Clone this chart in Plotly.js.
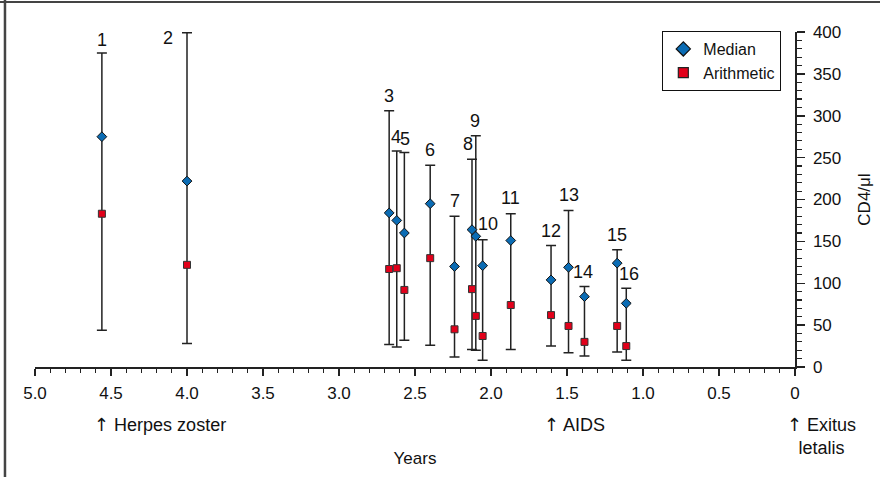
<!DOCTYPE html>
<html>
<head>
<meta charset="utf-8">
<script src="https://cdn.plot.ly/plotly-3.0.1.min.js"></script>
<style>html,body{margin:0;padding:0;background:#fff;}#chart{width:880px;height:477px;}</style>
</head>
<body>
<div id="chart"></div>
<script>
// Years before death for each patient group
var years = [4.56, 4.0, 2.67, 2.62, 2.57, 2.40, 2.24, 2.125, 2.10, 2.055, 1.87, 1.605, 1.49, 1.385, 1.17, 1.11];
var labels = ['1','2','3','4','5','6','7','8','9','10','11','12','13','14','15','16'];
var median = [275, 222, 184, 175, 160, 195, 120, 164, 156, 121, 151, 104, 119, 84, 124, 76];
var arithmetic = [183, 122, 117, 118, 92, 130, 45, 93, 61, 37, 74, 62, 49, 30, 49, 25];
var rangeTop = [375, 399, 306, 258, 256, 241, 180, 248, 276, 152, 183, 145, 187, 96, 140, 94];
var rangeBottom = [44, 28, 27, 24, 32, 26, 12, 21, 20, 8, 21, 25, 17, 13, 18, 8];
var xTickVals = [5.0, 4.5, 4.0, 3.5, 3.0, 2.5, 2.0, 1.5, 1.0, 0.5, 0];
var xTickText = ['5.0','4.5','4.0','3.5','3.0','2.5','2.0','1.5','1.0','0.5','0'];
var eventX = [4.6, 1.64, 0];
var eventText = ['Herpes zoster', 'AIDS', 'Exitus<br>letalis'];

// label styling offsets (pixels)
var labelDx = [0, -19, 0, -1, 1, 0, 0, -4, -1, 5, 0, 0, 0, -1, 0, 3];
var labelDy = [13, -5, 15, 14, 14, 15, 15, 15, 15, 16, 16, 15, 15, 15, 15, 14];

var FONT = 'Liberation Sans, Arial, Helvetica, sans-serif';
var ARROW = '<span style="font-family:DejaVu Sans">\u2191</span>';
var plus = rangeTop.map(function(t, i){ return t - median[i]; });
var minus = rangeBottom.map(function(b, i){ return median[i] - b; });

var traces = [
  {
    type: 'scatter', mode: 'markers', name: 'Median', legendgroup: 'm', showlegend: false,
    x: years, y: median,
    marker: {symbol: 'diamond', size: 7.5, color: '#0b6cb4', line: {color: '#111', width: 1}},
    error_y: {type: 'data', symmetric: false, array: plus, arrayminus: minus, color: '#222', thickness: 1.5, width: 5},
    cliponaxis: false
  },
  {
    type: 'scatter', mode: 'markers', name: 'Arithmetic', legendgroup: 'a', showlegend: false,
    x: years, y: arithmetic,
    marker: {symbol: 'square', size: 7, color: '#e2001a', line: {color: '#333', width: 1}},
    cliponaxis: false
  },
  // legend entries (larger symbols, as in the original key)
  {type: 'scatter', mode: 'markers', name: 'Median', legendgroup: 'm', x: [null], y: [null],
    marker: {symbol: 'diamond', size: 11, color: '#0b6cb4', line: {color: '#111', width: 1.2}}},
  {type: 'scatter', mode: 'markers', name: 'Arithmetic', legendgroup: 'a', x: [null], y: [null],
    marker: {symbol: 'square', size: 10, color: '#e2001a', line: {color: '#222', width: 1.2}}}
];

var annotations = labels.map(function(l, i){
  return {xref: 'x', yref: 'y', x: years[i], y: rangeTop[i],
    text: l, showarrow: false, xanchor: 'center', yanchor: 'middle',
    xshift: labelDx[i], yshift: labelDy[i], font: {family: FONT, size: 18, color: '#111'}};
});
eventX.forEach(function(x, i){
  annotations.push({xref: 'x', yref: 'paper', x: x, y: -0.133, text: ARROW + ' ' + eventText[i], showarrow: false,
    xanchor: 'left', yanchor: 'top', align: 'center', xshift: (x === 0 ? -10 : -4),
    font: {family: FONT, size: 18, color: '#111'}});
});

var frameColor = '#444';
var layout = {
  width: 880, height: 477,
  margin: {l: 35, r: 85, t: 32, b: 110, pad: 0},
  paper_bgcolor: '#fff', plot_bgcolor: '#fff',
  font: {family: FONT, size: 16, color: '#111'},
  showlegend: true,
  legend: {x: 0.982, y: 1.003, xanchor: 'right', yanchor: 'top', bgcolor: '#fff',
    bordercolor: '#111', borderwidth: 1, font: {family: FONT, size: 16, color: '#111'},
    itemwidth: 30, tracegroupgap: 0},
  xaxis: {
    range: [5, 0], showgrid: false, zeroline: false,
    showline: true, linecolor: '#222', linewidth: 1.5,
    tickmode: 'array', tickvals: xTickVals, ticktext: xTickText,
    ticks: 'outside', ticklen: 7, tickwidth: 1.5, tickcolor: '#222',
    minor: {dtick: 0.1, ticks: 'outside', ticklen: 4, tickwidth: 1.2, tickcolor: '#222', showgrid: false},
    tickfont: {family: FONT, size: 17, color: '#111'},
    ticklabelstandoff: 3,
    title: {text: 'Years', font: {family: FONT, size: 17, color: '#111'}, standoff: 50},
    automargin: false
  },
  yaxis: {
    range: [0, 400], side: 'right', showgrid: false, zeroline: false,
    showline: true, linecolor: '#222', linewidth: 1.5,
    tick0: 0, dtick: 50,
    ticks: 'outside', ticklen: 8, tickwidth: 1.5, tickcolor: '#222',
    minor: {dtick: 10, ticks: 'outside', ticklen: 5, tickwidth: 1.2, tickcolor: '#222', showgrid: false},
    tickfont: {family: FONT, size: 17, color: '#111'},
    ticklabelstandoff: 5,
    title: {text: 'CD4/\u03bcl', font: {family: FONT, size: 17, color: '#111'}, standoff: 18},
    automargin: false
  },
  annotations: annotations,
  shapes: [
    {type: 'line', xref: 'paper', yref: 'paper', x0: -0.05, x1: 1.2, y0: 1.0896, y1: 1.0896, line: {color: frameColor, width: 2}},
    {type: 'line', xref: 'paper', yref: 'paper', x0: -0.0395, x1: -0.0395, y0: 1.1, y1: -0.4, line: {color: frameColor, width: 2.5}}
  ]
};

Plotly.newPlot('chart', traces, layout, {displayModeBar: false, staticPlot: true});
</script>
</body>
</html>
